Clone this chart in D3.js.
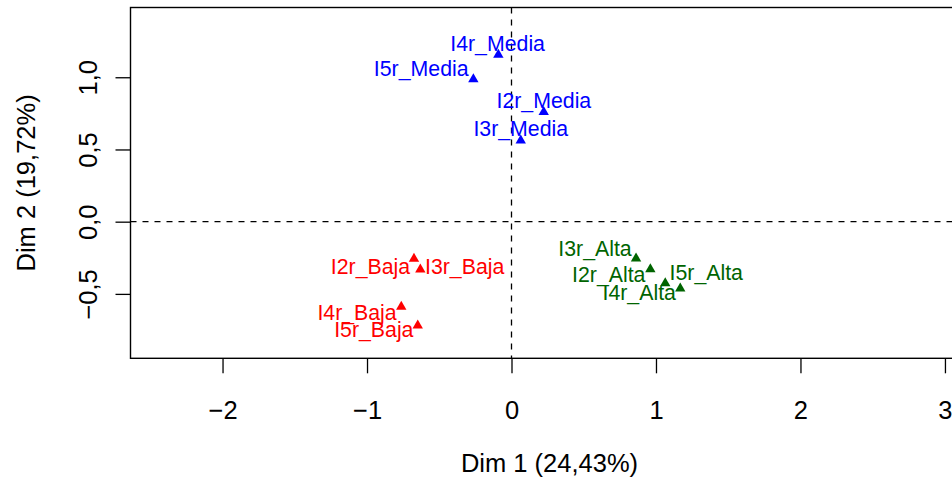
<!DOCTYPE html>
<html>
<head>
<meta charset="utf-8">
<script src="https://cdn.jsdelivr.net/npm/d3@7"></script>
<style>
  body { margin: 0; background: #fff; }
  svg text { font-family: "Liberation Sans", Arial, Helvetica, sans-serif; }
</style>
</head>
<body>
<div id="chart"></div>
<script>
var w = 952, h = 483;

// categories and coordinates (Dim 1, Dim 2)
var labels = ["I2r_Alta", "I3r_Alta", "I4r_Alta", "I5r_Alta",
              "I2r_Baja", "I3r_Baja", "I4r_Baja", "I5r_Baja",
              "I2r_Media", "I3r_Media", "I4r_Media", "I5r_Media"];
var dim1 = [0.961, 0.862, 1.064, 1.168,
            -0.675, -0.631, -0.763, -0.649,
            0.223, 0.064, -0.091, -0.264];
var dim2 = [-0.319, -0.244, -0.416, -0.452,
            -0.247, -0.321, -0.579, -0.708,
            0.769, 0.573, 1.166, 0.997];
var group = ["Alta", "Alta", "Alta", "Alta",
             "Baja", "Baja", "Baja", "Baja",
             "Media", "Media", "Media", "Media"];
// label anchors after repelling (data units)
var labX = [0.673, 0.578, 0.884, 1.348,
            -0.976, -0.324, -1.069, -0.953,
            0.224, 0.064, -0.096, -0.625];
var labY = [-0.364, -0.184, -0.486, -0.348,
            -0.306, -0.306, -0.630, -0.745,
            0.837, 0.645, 1.235, 1.062];

var xTicks = [-2, -1, 0, 1, 2, 3];
var yTicks = [-0.5, 0, 0.5, 1];
var xTitle = "Dim 1 (24,43%)", yTitle = "Dim 2 (19,72%)";

var colors = { Alta: "#006400", Baja: "#ff0000", Media: "#0000ff" };

var pLeft = 130.5, pRight = 968.5, pTop = 7.5, pBottom = 358.3;
var axisFont = "25.5px", labFont = "21.3px";

var x = d3.scaleLinear().domain([-2.637, 3.163]).range([pLeft, pRight]);
var y = d3.scaleLinear().domain([-0.946, 1.483]).range([pBottom, pTop]);

var svg = d3.select("#chart")
            .append("svg")
            .attr("width", w)
            .attr("height", h);

var fmt = function(d) { return d3.format(".1f")(d).replace(".", ",").replace("-", "\u2212"); };

// x axis
var xAxis = svg.append("g")
    .attr("transform", "translate(0," + pBottom + ")")
    .call(d3.axisBottom(x).tickValues(xTicks).tickSize(15).tickPadding(46)
      .tickFormat(function(d) { return String(d).replace("-", "\u2212"); }));
xAxis.select(".domain").remove();
xAxis.selectAll("line").attr("stroke", "#000").attr("stroke-width", 1.3);
xAxis.selectAll("text").attr("dy", null)
     .attr("font-size", axisFont).attr("fill", "#000")
     .attr("font-family", "Liberation Sans, Arial, sans-serif");

// y axis
var yAxis = svg.append("g")
    .attr("transform", "translate(" + pLeft + ",0)")
    .call(d3.axisLeft(y).tickValues(yTicks).tickSize(15).tickFormat(fmt));
yAxis.select(".domain").remove();
yAxis.selectAll("line").attr("stroke", "#000").attr("stroke-width", 1.3);
yAxis.selectAll("text")
     .attr("x", null).attr("dy", null)
     .attr("text-anchor", "middle")
     .attr("transform", "translate(-33.5,0) rotate(-90)")
     .attr("font-size", axisFont).attr("fill", "#000")
     .attr("font-family", "Liberation Sans, Arial, sans-serif");

// reference lines
svg.append("line")
    .attr("x1", pLeft).attr("x2", pRight)
    .attr("y1", y(0)).attr("y2", y(0))
    .attr("stroke", "#000").attr("stroke-width", 1.3)
    .attr("stroke-dasharray", "6,6");
svg.append("line")
    .attr("x1", x(0)).attr("x2", x(0))
    .attr("y1", pTop).attr("y2", pBottom)
    .attr("stroke", "#000").attr("stroke-width", 1.3)
    .attr("stroke-dasharray", "6,6");

// box
svg.append("rect")
    .attr("x", pLeft).attr("y", pTop)
    .attr("width", pRight - pLeft).attr("height", pBottom - pTop)
    .attr("fill", "none").attr("stroke", "#000").attr("stroke-width", 1.4);

// triangles (pch 17)
var tri = function(cx, cy) {
  var hw = 5.2, hh = 4.5;
  return "M" + cx + "," + (cy - hh) + "L" + (cx + hw) + "," + (cy + hh) +
         "L" + (cx - hw) + "," + (cy + hh) + "Z";
};
svg.selectAll("path.pt")
    .data(labels)
    .enter()
    .append("path")
    .attr("class", "pt")
    .attr("d", function(d, i) { return tri(x(dim1[i]), y(dim2[i])); })
    .attr("fill", function(d, i) { return colors[group[i]]; });

svg.selectAll("text.lab")
    .data(labels)
    .enter()
    .append("text")
    .attr("class", "lab")
    .text(function(d) { return d; })
    .attr("x", function(d, i) { return x(labX[i]); })
    .attr("y", function(d, i) { return y(labY[i]); })
    .attr("dy", "0.36em")
    .attr("text-anchor", "middle")
    .attr("font-size", labFont)
    .attr("fill", function(d, i) { return colors[group[i]]; });

// axis titles
svg.append("text")
    .text(xTitle)
    .attr("x", (pLeft + pRight) / 2)
    .attr("y", 472)
    .attr("text-anchor", "middle")
    .attr("font-size", axisFont);
svg.append("text")
    .text(yTitle)
    .attr("transform", "translate(34.5," + (pTop + pBottom) / 2 + ") rotate(-90)")
    .attr("text-anchor", "middle")
    .attr("font-size", axisFont);
</script>
</body>
</html>
